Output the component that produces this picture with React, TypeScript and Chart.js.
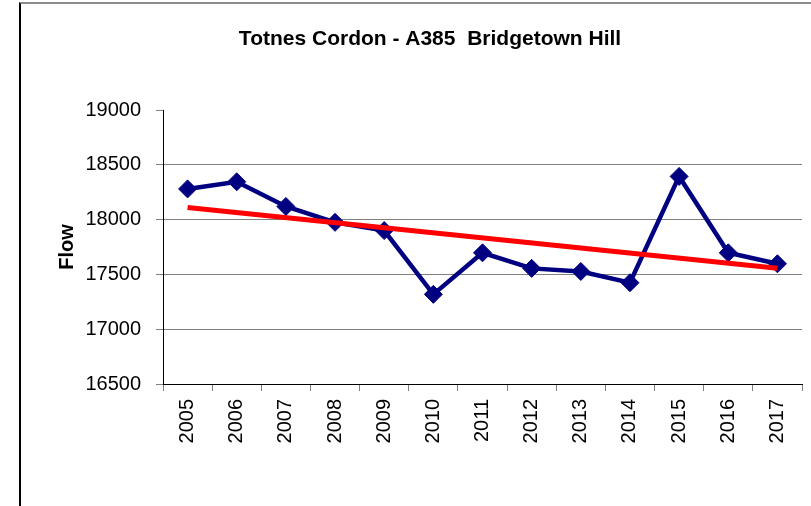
import React, { useEffect, useRef } from "react";
import { Chart, registerables } from "chart.js";

Chart.register(...registerables);

const years = ["2005", "2006", "2007", "2008", "2009", "2010", "2011", "2012", "2013", "2014", "2015", "2016", "2017"];
const flowValues = [18280, 18345, 18120, 17975, 17900, 17318, 17697, 17555, 17527, 17424, 18394, 17697, 17597];
const trendStart = 18110;
const trendEnd = 17556;
const trendValues: (number | null)[] = years.map((_, i) =>
  i === 0 ? trendStart : i === years.length - 1 ? trendEnd : null
);
const titleText = "Totnes Cordon - A385  Bridgetown Hill";
const yTitle = "Flow";
const yMin = 16500;
const yMax = 19000;
const yStep = 500;

const FONT = "'Liberation Sans', Arial, sans-serif";

export default function App() {
  const ref = useRef<HTMLCanvasElement | null>(null);
  useEffect(() => {
    if (!ref.current) return;
    const chart = new Chart(ref.current, {
      type: "line",
      data: {
        labels: years,
        datasets: [
          {
            label: "Trend",
            data: trendValues,
            borderColor: "#FF0000",
            backgroundColor: "#FF0000",
            borderWidth: 5,
            pointRadius: 0,
            spanGaps: true,
            order: 0,
          },
          {
            label: "Flow",
            data: flowValues,
            borderColor: "#000080",
            backgroundColor: "#000080",
            borderWidth: 4.5,
            pointStyle: "rectRot",
            pointRadius: 9,
            pointBorderWidth: 1,
            tension: 0,
            order: 1,
          },
        ],
      },
      options: {
        responsive: false,
        animation: false,
        events: [],
        layout: { padding: { top: 0, left: 38, right: 38, bottom: 0 } },
        plugins: {
          legend: { display: false },
          tooltip: { enabled: false },
          title: {
            display: true,
            text: titleText,
            color: "#000",
            font: { family: FONT, size: 21, weight: "bold" },
            padding: { top: 27, bottom: 57.8 },
          },
        },
        scales: {
          x: {
            offset: true,
            grid: {
              display: true,
              drawOnChartArea: false,
              drawTicks: true,
              offset: true,
              tickLength: 7,
              color: "#808080",
            },
            border: { display: true, color: "#000", width: 1 },
            ticks: {
              color: "#000",
              font: { family: FONT, size: 20 },
              minRotation: 90,
              maxRotation: 90,
              padding: 8,
              autoSkip: false,
            },
            afterFit: (scale: any) => {
              scale.height = 122;
            },
          },
          y: {
            min: yMin,
            max: yMax,
            grid: {
              color: (ctx: any) => {
                const v = ctx.tick ? ctx.tick.value : null;
                if (v === yMax) return "rgba(0,0,0,0)";
                if (v === yMin) return "#000";
                return "#808080";
              },
              tickColor: "#808080",
              tickLength: 7,
              lineWidth: 1,
            },
            border: { display: true, color: "#000", width: 1 },
            ticks: {
              stepSize: yStep,
              color: "#000",
              padding: 15,
              font: { family: FONT, size: 20 },
              callback: (v: any) => String(v),
            },
            title: {
              display: true,
              text: yTitle,
              color: "#000",
              font: { family: FONT, size: 20, weight: "bold", lineHeight: 0.5 },
              padding: { top: 4.5, bottom: 0 },
            },
            afterFit: (scale: any) => {
              scale.width = 105;
            },
          },
        },
      },
    });
    return () => chart.destroy();
  }, []);

  return (
    <div
      style={{
        position: "fixed",
        left: 0,
        top: 0,
        width: 811,
        height: 506,
        overflow: "hidden",
        background: "#fff",
      }}
    >
      <div
        style={{
          position: "absolute",
          left: 20,
          top: 0,
          width: 820,
          height: 506,
        }}
      >
        <canvas ref={ref} width={820} height={506} style={{ display: "block" }} />
      </div>
      <div
        style={{
          position: "absolute",
          left: 19,
          top: 2,
          width: 830,
          height: 530,
          borderLeft: "2px solid #000",
          borderTop: "2px solid #8c8c8c",
          boxSizing: "border-box",
          pointerEvents: "none",
        }}
      />
    </div>
  );
}
